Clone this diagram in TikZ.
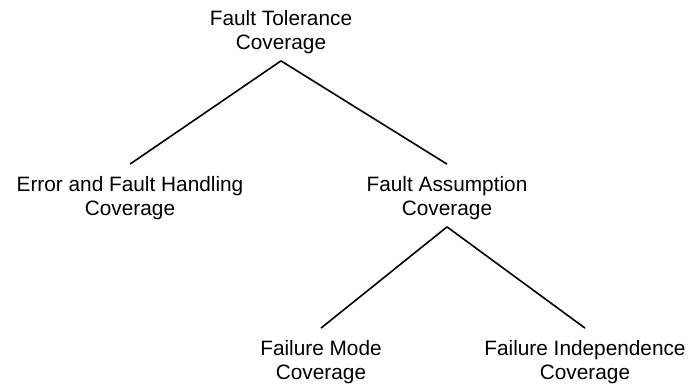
\documentclass[tikz,border=0pt]{standalone}
\usepackage{fontspec}
\setmainfont{Liberation Sans}
\begin{document}
\begin{tikzpicture}[x=1pt,y=1pt,
  term/.style={align=center,inner sep=0pt,font=\fontsize{20.8}{24}\selectfont},
  branch/.style={line width=1.6pt,black}]
\useasboundingbox (0,0) rectangle (695,383);
% tree nodes
\node[term] (ftc) at (281,351) {Fault Tolerance\\Coverage};
\node[term] (efh) at (130,185) {Error and Fault Handling\\Coverage};
\node[term] (fac) at (447,185) {Fault Assumption\\Coverage};
\node[term] (fmc) at (321,21) {Failure Mode\\Coverage};
\node[term] (fic) at (585,21) {Failure Independence\\Coverage};
% branches
\draw[branch] (ftc.south) ++(0,-7) coordinate (ftcA);
\draw[branch] (fac.south) ++(0,-7) coordinate (facA);
\draw[branch] (ftcA) -- ([yshift=12pt]efh.north);
\draw[branch] (ftcA) -- ([yshift=12pt]fac.north);
\draw[branch] (facA) -- ([yshift=12pt]fmc.north);
\draw[branch] (facA) -- ([yshift=12pt]fic.north);
\end{tikzpicture}
\end{document}
